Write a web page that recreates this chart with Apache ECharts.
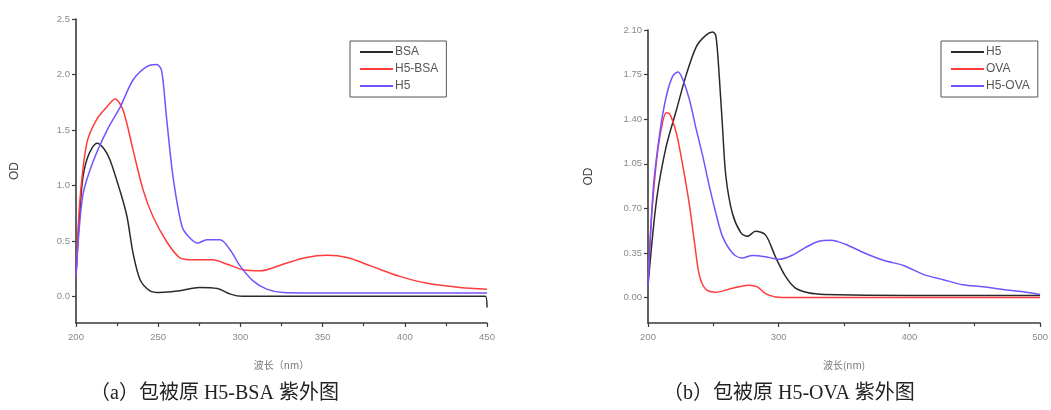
<!DOCTYPE html>
<html><head><meta charset="utf-8">
<script src="https://cdn.jsdelivr.net/npm/echarts@6/dist/echarts.min.js"></script>
<style>html,body{margin:0;padding:0;background:#fff}#c{width:1051px;height:410px}</style>
</head><body><div id="c"></div>
<script>
// ---- Panel (a): H5-BSA ----
const aXTicks = [200, 250, 300, 350, 400, 450];
const aYTicks = [0, 0.5, 1.0, 1.5, 2.0, 2.5];
const bsaX = [200, 203.6, 207, 212.8, 217, 220.7, 227, 231, 234.7, 239, 245, 251, 263, 275, 286, 294, 301, 330, 400, 449, 450];
const bsaY = [0.18, 1.0, 1.25, 1.38, 1.33, 1.23, 0.94, 0.72, 0.39, 0.15, 0.05, 0.035, 0.05, 0.08, 0.07, 0.02, 0.0, 0.0, 0.0, 0.0, -0.1];
const h5bsaX = [200, 202.4, 206.7, 212.8, 218.9, 223.7, 228.6, 234.7, 240.8, 246.8, 255.3, 263, 271, 283, 292, 301.6, 312, 326, 340, 352.6, 364.8, 380, 397, 413, 433.5, 450];
const h5bsaY = [0.18, 0.87, 1.39, 1.6, 1.71, 1.78, 1.68, 1.32, 0.96, 0.72, 0.49, 0.35, 0.33, 0.33, 0.29, 0.24, 0.23, 0.29, 0.35, 0.37, 0.35, 0.27, 0.18, 0.12, 0.08, 0.065];
const h5aX = [200, 204, 210, 219, 227, 234.7, 243, 249, 252, 255, 259, 264.5, 269, 274, 279.5, 287.6, 293.7, 300, 307.7, 316, 326, 360, 450];
const h5aY = [0.18, 0.9, 1.2, 1.5, 1.71, 1.95, 2.07, 2.09, 2.04, 1.62, 1.08, 0.63, 0.53, 0.48, 0.51, 0.51, 0.42, 0.27, 0.14, 0.065, 0.035, 0.03, 0.03];

// ---- Panel (b): H5-OVA ----
const bXTicks = [200, 300, 400, 500];
const bYTicks = [0, 0.35, 0.70, 1.05, 1.40, 1.75, 2.10];
const h5bX = [200, 206.6, 214, 221.7, 229, 237, 244.4, 249.5, 252, 254.5, 257, 259.6, 264.6, 271, 276, 282.3, 290, 297.5, 305, 312.6, 322.7, 335, 400, 500];
const h5bY = [0.09, 0.77, 1.19, 1.47, 1.74, 1.97, 2.06, 2.085, 2.05, 1.74, 1.34, 0.95, 0.66, 0.51, 0.48, 0.52, 0.49, 0.32, 0.17, 0.076, 0.037, 0.024, 0.015, 0.015];
const ovaX = [200, 202.8, 206.6, 210.4, 214, 216.7, 221.7, 226.7, 231.8, 235.6, 239.4, 244.4, 252, 264.6, 277, 283.6, 290, 297.5, 310, 400, 500];
const ovaY = [0.12, 0.64, 1.08, 1.34, 1.45, 1.44, 1.29, 1.03, 0.72, 0.43, 0.17, 0.063, 0.042, 0.073, 0.097, 0.084, 0.03, 0.005, 0.0, 0.0, 0.0];
const h5ovaX = [200, 204, 209, 214, 219, 223, 226.7, 231.8, 236.9, 241.9, 247, 252, 257, 264.6, 272, 279.8, 290, 300, 310, 320, 330, 340, 350.5, 365.6, 380.8, 396, 411, 426, 441, 456.6, 471.7, 487, 500];
const h5ovaY = [0.09, 0.85, 1.29, 1.58, 1.74, 1.77, 1.71, 1.55, 1.32, 1.11, 0.87, 0.66, 0.48, 0.35, 0.31, 0.33, 0.32, 0.30, 0.33, 0.39, 0.44, 0.45, 0.42, 0.35, 0.29, 0.25, 0.18, 0.14, 0.10, 0.084, 0.063, 0.045, 0.024];

const zip = (xs, ys) => xs.map((x, i) => [x, ys[i]]);
const C_BLACK = '#2a2a2a', C_RED = '#ff3b3b', C_BLUE = '#7552ff';
const axisCol = '#3a3a3a';
const labelStyle = { color: '#8a8a8a', fontSize: 9.5, fontFamily: 'Liberation Sans, Arial, sans-serif' };

function xAx(gi, min, max, interval, name) {
  return {
    type: 'value', gridIndex: gi, min, max, interval,
    name, nameLocation: 'middle', nameGap: 37,
    nameTextStyle: { color: '#777', fontSize: 10, fontFamily: 'Noto Sans CJK SC, sans-serif' },
    axisLine: { show: true, onZero: false, lineStyle: { color: axisCol, width: 1.6 } },
    axisTick: { show: true, length: 4, lineStyle: { color: axisCol, width: 1.2 } },
    minorTick: { show: true, splitNumber: 2, length: 3, lineStyle: { color: axisCol, width: 1.2 } },
    axisLabel: Object.assign({ margin: 9 }, labelStyle),
    splitLine: { show: false }
  };
}
function yAx(gi, min, max, ticks, digits, gap) {
  return {
    type: 'value', gridIndex: gi, min, max,
    name: 'OD', nameLocation: 'middle', nameGap: gap, nameRotate: 90,
    nameTextStyle: { color: '#444', fontSize: 12, fontFamily: 'Liberation Sans, Arial, sans-serif' },
    axisLine: { show: true, onZero: false, lineStyle: { color: axisCol, width: 1.6 } },
    axisTick: { show: true, length: 4, customValues: ticks, lineStyle: { color: axisCol, width: 1.2 } },
    axisLabel: Object.assign({ margin: 6, customValues: ticks, formatter: v => Number(v).toFixed(digits) }, labelStyle),
    splitLine: { show: false }
  };
}
function ser(name, xi, data, color) {
  return {
    name, type: 'line', xAxisIndex: xi, yAxisIndex: xi, data,
    symbol: 'none', smooth: 0.3,
    lineStyle: { color, width: 1.5 }, itemStyle: { color }
  };
}
const legendBase = {
  orient: 'vertical', icon: 'rect', itemWidth: 33, itemHeight: 2, itemGap: 5,
  backgroundColor: '#fff', borderColor: '#555', borderWidth: 1, borderRadius: 0,
  padding: [5, 8, 5, 10],
  textStyle: { color: '#555', fontSize: 12, fontFamily: 'Liberation Sans, Arial, sans-serif', padding: [0, 0, 0, -3] }
};

const chart = echarts.init(document.getElementById('c'), null, { renderer: 'canvas' });
chart.setOption({
  backgroundColor: '#fff',
  animation: false,
  grid: [
    { left: 76, top: 19, width: 411, height: 304 },
    { left: 648, top: 30, width: 396, height: 293 }
  ],
  xAxis: [
    xAx(0, aXTicks[0], aXTicks[aXTicks.length - 1], 50, '波长（nm）'),
    xAx(1, bXTicks[0], bXTicks[bXTicks.length - 1], 100, '波长(nm)')
  ],
  yAxis: [
    yAx(0, -0.24, 2.5, aYTicks, 1, 55),
    yAx(1, -0.2, 2.1, bYTicks, 2, 53)
  ],
  legend: [
    Object.assign({}, legendBase, { data: ['BSA', 'H5-BSA', 'H5'], left: 350, top: 41 }),
    Object.assign({}, legendBase, { data: ['H5 ', 'OVA', 'H5-OVA'], left: 941, top: 41 })
  ],
  series: [
    ser('BSA', 0, zip(bsaX, bsaY), C_BLACK),
    ser('H5-BSA', 0, zip(h5bsaX, h5bsaY), C_RED),
    ser('H5', 0, zip(h5aX, h5aY), C_BLUE),
    ser('H5 ', 1, zip(h5bX, h5bY), C_BLACK),
    ser('OVA', 1, zip(ovaX, ovaY), C_RED),
    ser('H5-OVA', 1, zip(h5ovaX, h5ovaY), C_BLUE)
  ],
  graphic: [
    { type: 'text', left: 90, top: 384, style: { text: '（a）包被原 H5-BSA 紫外图', fill: '#222', font: '20px "Liberation Serif", "Noto Sans CJK SC", serif' } },
    { type: 'text', left: 663, top: 384, style: { text: '（b）包被原 H5-OVA 紫外图', fill: '#222', font: '20px "Liberation Serif", "Noto Sans CJK SC", serif' } }
  ]
});
</script></body></html>
